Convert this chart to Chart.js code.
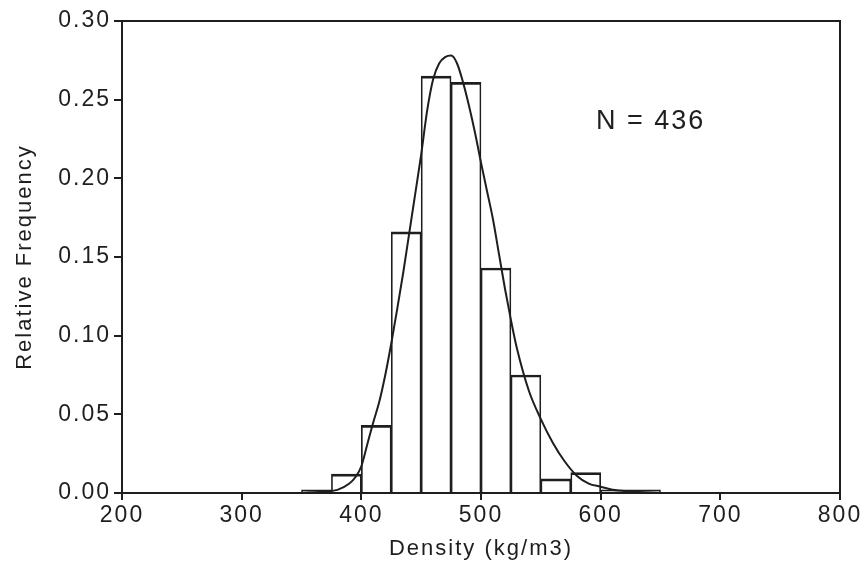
<!DOCTYPE html>
<html>
<head>
<meta charset="utf-8">
<script src="https://cdn.jsdelivr.net/npm/chart.js@4/dist/chart.umd.min.js"></script>
<style>
  html, body { margin: 0; padding: 0; background: #ffffff; }
  #wrap { width: 866px; height: 564px; position: relative; }
</style>
</head>
<body>
<div id="wrap"><canvas id="c" width="866" height="564"></canvas></div>
<script>
// ---- data ----
const binCenters = [362.5, 387.5, 412.5, 437.5, 462.5, 487.5, 512.5, 537.5, 562.5, 587.5, 612.5, 637.5];
const relFreq    = [0.002, 0.012, 0.043, 0.166, 0.265, 0.261, 0.143, 0.075, 0.009, 0.013, 0.002, 0.002];

const curveX = [350, 360, 370, 380, 390, 395, 400, 405, 410, 415, 420, 425, 430, 435, 440, 445, 450, 455, 460, 465, 470, 475, 480, 485, 490, 495, 500, 505, 510, 515, 520, 525, 530, 540, 550, 560, 570, 580, 590, 600, 610, 625, 650];
const curveY = [0.000, 0.0005, 0.001, 0.002, 0.006, 0.010, 0.017, 0.031, 0.045, 0.058, 0.075, 0.095, 0.117, 0.140, 0.165, 0.190, 0.215, 0.243, 0.263, 0.273, 0.277, 0.278, 0.273, 0.261, 0.246, 0.229, 0.210, 0.192, 0.174, 0.152, 0.130, 0.110, 0.092, 0.065, 0.047, 0.032, 0.020, 0.011, 0.006, 0.004, 0.002, 0.001, 0.000];

const xTickLabels = ['200', '300', '400', '500', '600', '700', '800'];
const yTickLabels = ['0.00', '0.05', '0.10', '0.15', '0.20', '0.25', '0.30'];

const annotationText = 'N = 436';
const annotationAt = { x: 596, y: 0.236 };

const xTitle = 'Density (kg/m3)';
const yTitle = 'Relative Frequency';

// ---- chart ----
const INK = '#1e1e1e';
const FONT = '"Liberation Sans", Arial, Helvetica, sans-serif';
const X_TICK_LEN = 7;

const framePlugin = {
  id: 'frameAndNote',
  beforeDraw(chart) {
    chart.ctx.letterSpacing = '2px';
  },
  afterDraw(chart) {
    const { ctx, chartArea: a, scales } = chart;
    ctx.save();
    ctx.strokeStyle = INK;
    ctx.lineWidth = 2;
    // box round the plot area
    ctx.strokeRect(a.left, a.top, a.right - a.left, a.bottom - a.top);
    // x tick marks at the library's own ticks
    ctx.beginPath();
    scales.x.ticks.forEach(t => {
      const px = Math.round(scales.x.getPixelForValue(t.value));
      ctx.moveTo(px, a.bottom);
      ctx.lineTo(px, a.bottom + X_TICK_LEN);
    });
    ctx.stroke();
    // annotation
    ctx.fillStyle = INK;
    ctx.font = '27px ' + FONT;
    ctx.letterSpacing = '2px';
    ctx.textAlign = 'left';
    ctx.textBaseline = 'middle';
    ctx.fillText(annotationText, scales.x.getPixelForValue(annotationAt.x), scales.y.getPixelForValue(annotationAt.y));
    ctx.restore();
  }
};

new Chart(document.getElementById('c'), {
  type: 'scatter',
  data: {
    datasets: [
      {
        type: 'line',
        data: curveX.map((x, i) => ({ x: x, y: curveY[i] })),
        borderColor: INK,
        borderWidth: 2,
        pointRadius: 0,
        fill: false,
        showLine: true,
        cubicInterpolationMode: 'monotone',
        order: 0
      },
      {
        type: 'bar',
        data: binCenters.map((x, i) => ({ x: x, y: relFreq[i] })),
        backgroundColor: 'rgba(255,255,255,0)',
        borderColor: INK,
        borderWidth: { top: 2, left: 1, right: 1, bottom: 0 },
        borderSkipped: 'start',
        barPercentage: 1,
        categoryPercentage: 1,
        order: 1
      }
    ]
  },
  options: {
    responsive: false,
    animation: false,
    devicePixelRatio: 1,
    layout: { padding: { left: 0, right: 26, top: 21, bottom: 0 } },
    plugins: { legend: { display: false }, tooltip: { enabled: false } },
    scales: {
      x: {
        type: 'linear',
        min: 200,
        max: 800,
        offset: false,
        afterFit(s) { s.height = 71; },
        ticks: {
          stepSize: 100,
          color: INK,
          font: { family: FONT, size: 23 },
          padding: 2,
          maxRotation: 0,
          callback: (v) => { const i = xTickLabels.indexOf(String(v)); return i >= 0 ? xTickLabels[i] : ''; }
        },
        grid: { offset: false, drawOnChartArea: false, drawTicks: true, tickLength: X_TICK_LEN, color: INK, lineWidth: 2 },
        border: { display: true, color: INK, width: 2 },
        title: { display: true, text: xTitle, color: INK, font: { family: FONT, size: 22 }, padding: { top: 0, bottom: 2 } }
      },
      y: {
        type: 'linear',
        min: 0,
        max: 0.3,
        afterFit(s) { s.width = 122; },
        ticks: {
          stepSize: 0.05,
          color: INK,
          font: { family: FONT, size: 23 },
          padding: 3,
          callback: (v) => yTickLabels[Math.round(v / 0.05)]
        },
        grid: { drawOnChartArea: false, drawTicks: true, tickLength: 8, color: INK, lineWidth: 2 },
        border: { display: true, color: INK, width: 2 },
        title: { display: true, text: yTitle, color: INK, font: { family: FONT, size: 22 }, padding: { top: 12, bottom: 0 } }
      }
    }
  },
  plugins: [framePlugin]
});
</script>
</body>
</html>
